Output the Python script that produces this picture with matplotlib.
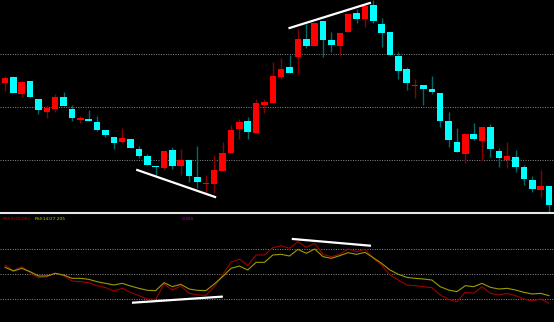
import matplotlib
matplotlib.use('Agg')
import matplotlib.pyplot as plt
import numpy as np
from matplotlib.lines import Line2D

# daily candles (price units), red = up, cyan = down
opens = [16.7, 17.3, 15.6, 16.9, 15.1, 13.8, 14.1, 15.3, 14.1, 13.0,
         13.1, 12.8, 12.0, 11.3, 10.8, 11.1, 10.1, 9.4, 8.4, 8.2,
         10.0, 8.4, 9.0, 7.3, 6.6, 6.6, 7.9, 9.7, 12.1, 12.9,
         11.7, 14.5, 14.7, 17.3, 18.3, 19.3, 21.1, 20.4, 22.9, 21.0,
         20.4, 21.8, 23.7, 23.1, 24.5, 22.6, 21.8, 19.4, 18.1, 16.4,
         16.5, 16.1, 15.7, 12.9, 10.8, 9.6, 11.6, 10.9, 12.3, 9.9,
         9.0, 9.3, 8.3, 7.0, 6.0, 6.4]
closes = [17.2, 15.7, 16.8, 15.3, 14.0, 14.2, 15.3, 14.4, 13.2, 13.2,
          12.9, 12.0, 11.5, 10.7, 11.2, 10.2, 9.4, 8.5, 8.3, 9.9,
          8.4, 9.0, 7.4, 6.8, 6.7, 8.0, 9.7, 12.0, 12.8, 11.8,
          14.7, 14.8, 17.4, 18.1, 17.7, 21.1, 20.4, 22.7, 21.0, 20.5,
          21.7, 23.6, 23.1, 24.4, 22.9, 21.7, 19.5, 17.9, 16.7, 16.5,
          16.1, 15.8, 12.9, 11.0, 9.8, 11.6, 11.1, 12.3, 10.1, 9.2,
          9.4, 8.3, 7.1, 6.1, 6.4, 4.5]
highs = [17.4, 17.4, 16.9, 16.9, 15.1, 14.5, 15.6, 15.8, 14.5, 13.4,
         14.0, 13.4, 12.0, 11.3, 12.2, 11.1, 10.4, 9.6, 8.4, 9.9,
         10.3, 10.1, 9.0, 10.4, 7.5, 9.5, 10.8, 12.5, 13.1, 13.3,
         15.1, 15.1, 18.8, 19.2, 19.5, 22.1, 22.6, 22.7, 22.9, 21.8,
         21.7, 23.6, 24.1, 24.7, 25.0, 23.2, 21.8, 19.8, 18.3, 17.1,
         16.5, 17.4, 15.7, 13.8, 12.2, 11.6, 12.7, 12.3, 12.6, 10.2,
         10.8, 10.0, 8.5, 7.4, 8.0, 6.4]
lows = [15.9, 15.7, 15.3, 15.3, 13.6, 13.2, 13.8, 14.4, 12.9, 12.7,
        12.9, 11.9, 11.3, 10.1, 10.7, 10.2, 9.2, 8.5, 7.5, 8.0,
        8.1, 7.5, 6.8, 6.2, 5.7, 5.7, 7.9, 9.7, 11.1, 11.1,
        11.7, 13.7, 14.7, 17.1, 17.7, 17.6, 20.2, 20.4, 19.3, 19.8,
        19.5, 21.8, 22.7, 22.3, 22.7, 20.3, 19.5, 17.1, 16.0, 15.2,
        14.5, 15.6, 12.3, 10.3, 9.8, 8.7, 11.0, 8.9, 9.3, 8.3,
        8.2, 7.8, 6.5, 5.8, 5.3, 3.7]

rsi9 = [60.8, 54.0, 58.8, 51.6, 45.6, 46.8, 50.8, 48.0, 41.6, 40.8,
        39.6, 36.0, 33.6, 29.6, 32.8, 28.0, 24.0, 20.0, 19.6, 38.0,
        30.8, 35.6, 26.8, 24.8, 24.4, 34.8, 48.8, 64.0, 68.0, 60.0,
        72.8, 72.8, 81.6, 84.0, 80.8, 88.8, 82.0, 86.8, 73.6, 70.8,
        73.6, 80.0, 76.8, 79.6, 68.8, 60.8, 48.8, 42.8, 36.8, 36.0,
        34.8, 33.6, 24.8, 19.6, 16.8, 28.0, 26.8, 34.8, 26.8, 24.8,
        26.8, 24.0, 20.0, 17.6, 20.0, 14.8]
rsi14 = [58.0, 53.6, 56.8, 52.8, 47.6, 47.6, 50.8, 48.8, 44.8, 44.8,
         43.6, 40.8, 38.8, 36.8, 38.8, 35.6, 32.8, 30.4, 30.0, 39.6,
         34.8, 37.6, 32.0, 30.4, 30.0, 38.0, 46.8, 56.8, 59.6, 54.8,
         64.0, 64.0, 72.8, 73.6, 71.6, 79.6, 74.8, 80.0, 70.8, 68.8,
         72.0, 75.6, 73.6, 76.0, 69.6, 62.8, 54.8, 49.6, 46.0, 44.8,
         44.0, 42.8, 34.8, 30.8, 28.8, 36.0, 34.8, 38.8, 34.0, 32.0,
         32.8, 30.8, 28.0, 26.0, 26.8, 24.0]

# hand drawn divergence lines (bar index, value)
price_lines = [([15.8, 25.1], [8.0, 5.3]), ([34.0, 43.6], [22.2, 24.7])]
rsi_lines = [([15.3, 25.9], [15.6, 22.8]), ([34.4, 43.6], [92.0, 84.0])]

price_grid = [19.6, 14.3, 9.0]
rsi_grid = [80, 50, 20]

RED = '#ff0000'
CYAN = '#00ffff'
RED_WICK = '#8a0000'
CYAN_WICK = '#006a6a'

fig = plt.figure(figsize=(5.54, 3.22), dpi=100, facecolor='black')
H = 322.0
ax = fig.add_axes([0, 1 - 212 / H, 1, 212 / H], facecolor='black')
ax_rsi = fig.add_axes([0, 0, 1, 108 / H], facecolor='black')

x = np.arange(len(opens))
o = np.array(opens)
c = np.array(closes)
up = c >= o

for level in price_grid:
    ax.axhline(level, color='#8c8c8c', lw=0.7, ls=(0, (1, 1.5)), zorder=0)

ax.vlines(x[up], np.array(lows)[up], np.array(highs)[up], color=RED_WICK, lw=1, zorder=1)
ax.vlines(x[~up], np.array(lows)[~up], np.array(highs)[~up], color=CYAN_WICK, lw=1, zorder=1)

body = np.abs(c - o)
body = np.where(body < 0.15, 0.15, body)
bottom = np.minimum(o, c)
ax.bar(x, body, bottom=bottom, width=0.78,
       color=[RED if u else CYAN for u in up], linewidth=0, zorder=2)

for xs, ys in price_lines:
    ax.plot(xs, ys, color='white', lw=1.6, zorder=3)

ax.set_xlim(-0.6, 65.6)
ax.set_ylim(3.8, 25.0)
ax.axis('off')

for level in rsi_grid:
    ax_rsi.axhline(level, color='#8c8c8c', lw=0.7, ls=(0, (1, 1.5)), zorder=0)

ax_rsi.plot(x, rsi9, color='#a00000', lw=0.8, zorder=2)
ax_rsi.plot(x, rsi14, color='#9c9c00', lw=0.8, zorder=2)
for xs, ys in rsi_lines:
    ax_rsi.plot(xs, ys, color='white', lw=1.6, zorder=3)

ax_rsi.set_xlim(-0.6, 65.6)
ax_rsi.set_ylim(-7.6, 122)
ax_rsi.axis('off')

ax_rsi.text(3 / 554, 1 - 5 / 108, 'RSI(9)20.082', color='#c00000', fontsize=3.2,
            transform=ax_rsi.transAxes, va='center', ha='left')
ax_rsi.text(35 / 554, 1 - 5 / 108, 'RSI(14)27.205', color='#c8c800', fontsize=3.2,
            transform=ax_rsi.transAxes, va='center', ha='left')
ax_rsi.text(182 / 554, 1 - 5 / 108, '0.355', color='#c000c0', fontsize=3.2,
            transform=ax_rsi.transAxes, va='center', ha='left')

# separator between panels
fig.add_artist(Line2D([0, 1], [1 - 213 / H, 1 - 213 / H], transform=fig.transFigure,
                      color='#e6e6e6', lw=1.5))

fig.savefig('out.png', dpi=100, facecolor='black')
